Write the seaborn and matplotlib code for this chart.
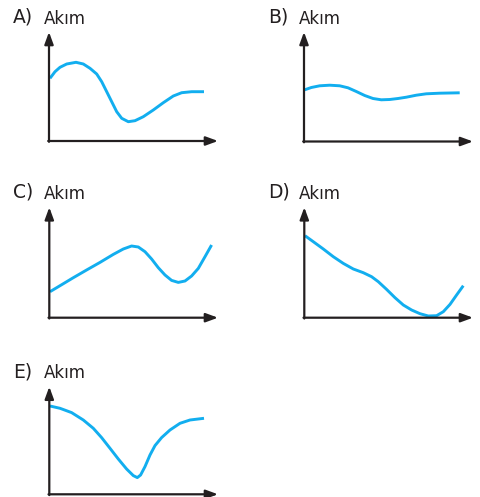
import matplotlib
matplotlib.use("Agg")
import matplotlib.pyplot as plt
import seaborn as sns
import pandas as pd

sns.set_theme(style="white")
plt.rcParams['font.family'] = ['DejaVu Sans']

# Panel letters and axis label
letters = ["A)", "B)", "C)", "D)", "E)"]
ylabel = "Akım"

# Curve values (relative units)
a_x = [1.0, 6.0, 11.0, 17.7, 27.0, 34.3, 41.0, 47.7, 52.7, 57.7, 62.7, 67.7, 72.7,
       79.3, 86.0, 94.3, 104.3, 114.3, 124.3, 132.7, 142.7, 155.0]
a_y = [62.7, 69.3, 73.7, 77.0, 78.7, 77.0, 72.7, 67.0, 59.3, 49.3, 39.3, 29.3, 22.7,
       19.3, 20.3, 24.3, 31.0, 38.3, 45.0, 48.3, 49.3, 49.3]

b_x = [0.7, 7.3, 15.7, 25.7, 35.7, 44.0, 52.3, 60.7, 69.0, 77.3, 85.7, 94.0, 102.3,
       112.3, 122.3, 135.7, 155.7]
b_y = [51.7, 54.0, 55.7, 56.3, 55.7, 53.7, 50.0, 46.0, 43.0, 41.7, 42.0, 43.0, 44.3,
       46.3, 47.7, 48.3, 48.7]

c_x = [0.7, 10.7, 24.0, 37.3, 50.7, 64.0, 74.0, 82.3, 89.0, 95.7, 102.3, 109.0, 115.7,
       122.3, 129.0, 135.7, 142.3, 149.0, 155.7, 162.3]
c_y = [26.0, 32.0, 40.0, 47.7, 55.3, 63.3, 68.7, 71.7, 70.7, 66.0, 58.7, 50.0, 42.7,
       37.3, 35.3, 36.7, 41.7, 49.3, 61.0, 72.7]

d_x = [0.7, 9.0, 19.0, 29.0, 39.0, 49.0, 59.0, 67.3, 74.0, 82.3, 90.7, 99.0, 107.3,
       115.7, 124.0, 132.3, 139.0, 145.7, 152.3, 159.0]
d_y = [82.0, 76.0, 68.7, 61.0, 54.3, 48.7, 45.0, 41.0, 36.0, 28.3, 20.0, 12.7, 7.7,
       4.0, 1.7, 2.0, 6.0, 13.3, 22.7, 32.0]

e_x = [0.7, 10.7, 22.3, 34.0, 44.0, 52.3, 60.7, 69.0, 77.3, 84.0, 88.0, 91.3, 95.7,
       100.7, 105.7, 112.3, 120.7, 130.7, 140.7, 154.7]
e_y = [88.3, 86.0, 81.7, 74.3, 66.0, 56.7, 46.0, 35.3, 25.3, 18.7, 16.7, 19.3, 27.7,
       39.3, 48.7, 56.7, 64.3, 71.0, 74.3, 76.0]

curves = [(a_x, a_y), (b_x, b_y), (c_x, c_y), (d_x, d_y), (e_x, e_y)]

W, H = 480, 497
fig = plt.figure(figsize=(W / 100, H / 100), dpi=100)

# (origin x, origin y, top y, arrow tip x) in pixels
boxes = [
    (49, 141, 32, 218),
    (304, 141.5, 32, 473),
    (49.3, 317.7, 207.3, 218),
    (304.3, 317.7, 207.3, 473),
    (49.3, 494.3, 386.7, 218),
]

axis_color = "#231F20"
curve_color = "#12AEEF"

for letter, (xs, ys), (ox, oy, top, tip) in zip(letters, curves, boxes):
    w = tip - ox
    h = oy - top
    ax = fig.add_axes([ox / W, 1 - oy / H, w / W, h / H])
    ax.set_xlim(0, w)
    ax.set_ylim(0, h)
    ax.axis("off")
    df = pd.DataFrame({"x": xs, "y": ys})
    sns.lineplot(data=df, x="x", y="y", sort=False, ax=ax, color=curve_color,
                 linewidth=2.1, solid_capstyle="butt", solid_joinstyle="round")
    arrow = dict(arrowstyle="-|>,head_length=0.6,head_width=0.22",
                 color=axis_color, lw=1.6, shrinkA=0, shrinkB=0)
    ax.annotate("", xy=(w, 0), xytext=(-0.8, 0), arrowprops=arrow,
                annotation_clip=False)
    ax.annotate("", xy=(0, h), xytext=(0, -0.8), arrowprops=arrow,
                annotation_clip=False)
    ax.text(-36, h + 9.5, letter, fontsize=13.5, color=axis_color,
            ha="left", va="baseline", clip_on=False)
    ax.text(-5, h + 8.3, ylabel, fontsize=12, color=axis_color,
            ha="left", va="baseline", clip_on=False)

fig.savefig("out.png", dpi=100)
